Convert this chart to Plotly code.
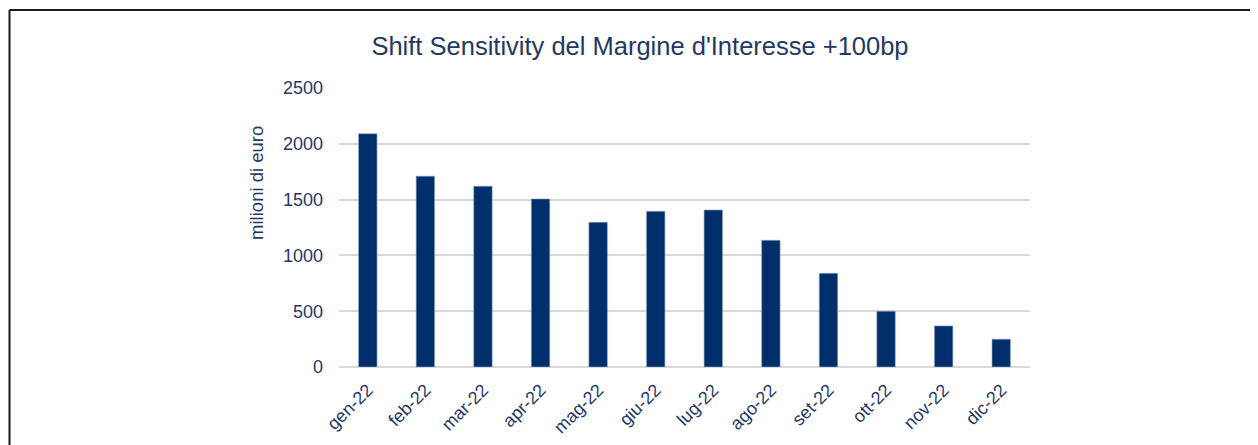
import plotly.graph_objects as go

months = ["gen-22", "feb-22", "mar-22", "apr-22", "mag-22", "giu-22",
          "lug-22", "ago-22", "set-22", "ott-22", "nov-22", "dic-22"]
values = [2090, 1710, 1620, 1506, 1297, 1395, 1407, 1135, 839, 500, 368, 249]
y_ticks = [0, 500, 1000, 1500, 2000, 2500]

NAVY = "#002F6C"
TEXT = "#1F3864"

W, H = 1258, 445
OFF = 8  # page body margin offset
# target screen coordinates of the plot area
SX0, SX1, SY0, SY1 = 339, 1030, 88.3, 366.7
L = SX0 - OFF
T = SY0 - OFF
R = W - (SX1 - OFF)
B = H - (SY1 - OFF)
pw, ph = W - L - R, H - T - B

def px_x(p):  # screen px -> paper
    return (p - SX0) / pw

def px_y(p):
    return (SY1 - p) / ph

fig = go.Figure()
fig.add_trace(go.Bar(
    x=months, y=values,
    marker=dict(color=NAVY, line=dict(color="#8FA3C0", width=0.6)),
    hoverinfo="skip",
))

fig.update_layout(
    width=W, height=H,
    margin=dict(l=L, r=R, t=T, b=B),
    paper_bgcolor="white", plot_bgcolor="white",
    bargap=0.68,
    showlegend=False,
    font=dict(family="Liberation Sans, Arial, sans-serif", color=TEXT),
    title=dict(
        text="Shift Sensitivity del Margine d'Interesse +100bp",
        xref="container", x=(640 - OFF) / W, xanchor="center",
        yref="container", y=1 - (46 - OFF) / H, yanchor="middle",
        font=dict(size=25.5, color=TEXT),
    ),
    xaxis=dict(
        tickangle=-45,
        tickfont=dict(size=18, color=TEXT),
        showgrid=False, showline=False, ticks="",
        ticklabelstandoff=8,
    ),
    yaxis=dict(
        range=[0, 2500],
        tickvals=y_ticks,
        tickfont=dict(size=18, color=TEXT),
        showgrid=True, gridcolor="#D9D9D9", gridwidth=1.5,
        zeroline=True, zerolinecolor="#D9D9D9", zerolinewidth=1.5,
        showline=False, ticks="",
        ticklabelstandoff=15,
    ),
    annotations=[
        dict(text="milioni di euro", textangle=-90, showarrow=False,
             xref="paper", yref="paper", x=px_x(257), y=px_y(183),
             xanchor="center", yanchor="middle",
             font=dict(size=18.5, color=TEXT)),
    ],
    shapes=[
        dict(type="line", xref="paper", yref="paper",
             x0=px_x(9.5), x1=px_x(1270), y0=px_y(10.5), y1=px_y(10.5),
             line=dict(color="#1a1a1a", width=2)),
        dict(type="line", xref="paper", yref="paper",
             x0=px_x(9.5), x1=px_x(9.5), y0=px_y(10.5), y1=px_y(460),
             line=dict(color="#1a1a1a", width=2)),
    ],
)

fig.write_html("out.html", config={"displayModeBar": False})
